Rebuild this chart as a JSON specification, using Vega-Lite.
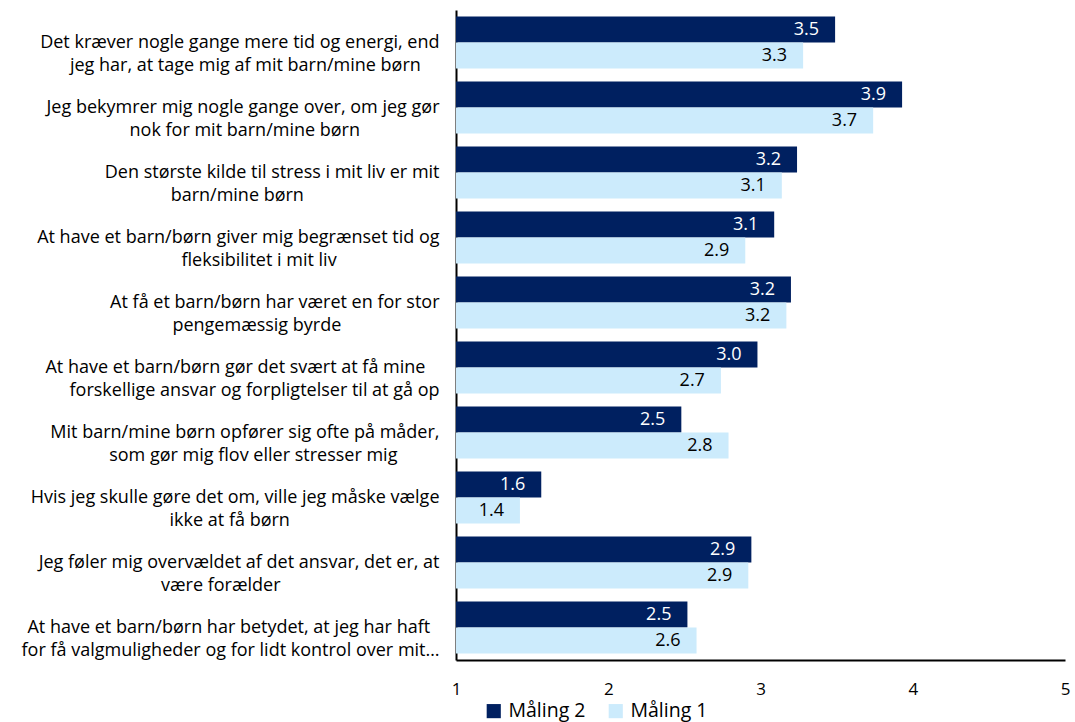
{
  "$schema": "https://vega.github.io/schema/vega-lite/v6.json",
  "width": 609,
  "height": 650,
  "autosize": "none",
  "padding": {"left": 456, "top": 10, "right": 10, "bottom": 62},
  "background": "white",
  "config": {
    "view": {"stroke": null},
    "font": "Open Sans",
    "axis": {"labelFont": "Open Sans", "labelColor": "#000000"},
    "legend": {"labelFont": "Open Sans"}
  },
  "data": {
    "values": [
      {"q": "Det kræver nogle gange mere tid og energi, end|jeg har, at tage mig af mit barn/mine børn", "series": "Måling 2", "value": 3.49},
      {"q": "Det kræver nogle gange mere tid og energi, end|jeg har, at tage mig af mit barn/mine børn", "series": "Måling 1", "value": 3.28},
      {"q": "Jeg bekymrer mig nogle gange over, om jeg gør|nok for mit barn/mine børn", "series": "Måling 2", "value": 3.93},
      {"q": "Jeg bekymrer mig nogle gange over, om jeg gør|nok for mit barn/mine børn", "series": "Måling 1", "value": 3.74},
      {"q": "Den største kilde til stress i mit liv er mit|barn/mine børn", "series": "Måling 2", "value": 3.24},
      {"q": "Den største kilde til stress i mit liv er mit|barn/mine børn", "series": "Måling 1", "value": 3.14},
      {"q": "At have et barn/børn giver mig begrænset tid og|fleksibilitet i mit liv", "series": "Måling 2", "value": 3.09},
      {"q": "At have et barn/børn giver mig begrænset tid og|fleksibilitet i mit liv", "series": "Måling 1", "value": 2.9},
      {"q": "At få et barn/børn har været en for stor|pengemæssig byrde", "series": "Måling 2", "value": 3.2},
      {"q": "At få et barn/børn har været en for stor|pengemæssig byrde", "series": "Måling 1", "value": 3.17},
      {"q": "At have et barn/børn gør det svært at få mine|forskellige ansvar og forpligtelser til at gå op", "series": "Måling 2", "value": 2.98},
      {"q": "At have et barn/børn gør det svært at få mine|forskellige ansvar og forpligtelser til at gå op", "series": "Måling 1", "value": 2.74},
      {"q": "Mit barn/mine børn opfører sig ofte på måder,|som gør mig flov eller stresser mig", "series": "Måling 2", "value": 2.48},
      {"q": "Mit barn/mine børn opfører sig ofte på måder,|som gør mig flov eller stresser mig", "series": "Måling 1", "value": 2.79},
      {"q": "Hvis jeg skulle gøre det om, ville jeg måske vælge|ikke at få børn", "series": "Måling 2", "value": 1.56},
      {"q": "Hvis jeg skulle gøre det om, ville jeg måske vælge|ikke at få børn", "series": "Måling 1", "value": 1.42},
      {"q": "Jeg føler mig overvældet af det ansvar, det er, at|være forælder", "series": "Måling 2", "value": 2.94},
      {"q": "Jeg føler mig overvældet af det ansvar, det er, at|være forælder", "series": "Måling 1", "value": 2.92},
      {"q": "At have et barn/børn har betydet, at jeg har haft|for få valgmuligheder og for lidt kontrol over mit…", "series": "Måling 2", "value": 2.52},
      {"q": "At have et barn/børn har betydet, at jeg har haft|for få valgmuligheder og for lidt kontrol over mit…", "series": "Måling 1", "value": 2.58}
    ]
  },
  "encoding": {
    "y": {
      "field": "q",
      "type": "nominal",
      "sort": null,
      "scale": {"paddingInner": 0.2, "paddingOuter": 0.1},
      "axis": {
        "title": null,
        "labelExpr": "[pad(split(datum.label,'|')[0], length(split(datum.label,'|')[0]) + round(0.92*max(0, length(split(datum.label,'|')[1]) - length(split(datum.label,'|')[0]))), '\u00a0', 'right') + '\u200b', pad(split(datum.label,'|')[1], length(split(datum.label,'|')[1]) + round(0.92*max(0, length(split(datum.label,'|')[0]) - length(split(datum.label,'|')[1]))), '\u00a0', 'right') + '\u200b']",
        "labelFontSize": 18,
        "labelLineHeight": 23,
        "labelLimit": 800,
        "labelPadding": 17,
        "labelAlign": "right",
        "ticks": false,
        "domainColor": "#000000",
        "domainWidth": 2
      }
    },
    "yOffset": {
      "field": "series",
      "type": "nominal",
      "sort": ["Måling 2", "Måling 1"],
      "scale": {"domain": ["Måling 2", "Måling 1"], "paddingInner": 0, "paddingOuter": 0}
    },
    "x": {
      "field": "value",
      "type": "quantitative",
      "scale": {"domain": [1, 5], "zero": false, "nice": false},
      "axis": {
        "title": null,
        "values": [1, 2, 3, 4, 5],
        "grid": false,
        "ticks": false,
        "labelFontSize": 17,
        "labelPadding": 21,
        "labelFlush": false,
        "domainColor": "#000000",
        "domainWidth": 2
      }
    }
  },
  "layer": [
    {
      "mark": {"type": "bar"},
      "encoding": {
        "x2": {"datum": 1},
        "color": {
          "field": "series",
          "type": "nominal",
          "scale": {"domain": ["Måling 2", "Måling 1"], "range": ["#002060", "#CCEBFC"]},
          "legend": {
            "title": null,
            "orient": "none",
            "direction": "horizontal",
            "legendX": 28,
            "legendY": 691,
            "symbolType": "square",
            "symbolSize": 200,
            "symbolStrokeWidth": 0,
            "labelFontSize": 19.5,
            "labelOffset": 5,
            "labelColor": "#000000",
            "columnPadding": 20,
            "symbolOffset": 0
          }
        }
      }
    },
    {
      "mark": {"type": "text", "align": "right", "baseline": "middle", "dx": -16, "fontSize": 18, "font": "Open Sans"},
      "encoding": {
        "text": {"field": "value", "type": "quantitative", "format": ".1f"},
        "color": {
          "condition": {"test": "datum.series === 'Måling 2'", "value": "#FFFFFF"},
          "value": "#000000"
        }
      }
    }
  ]
}
